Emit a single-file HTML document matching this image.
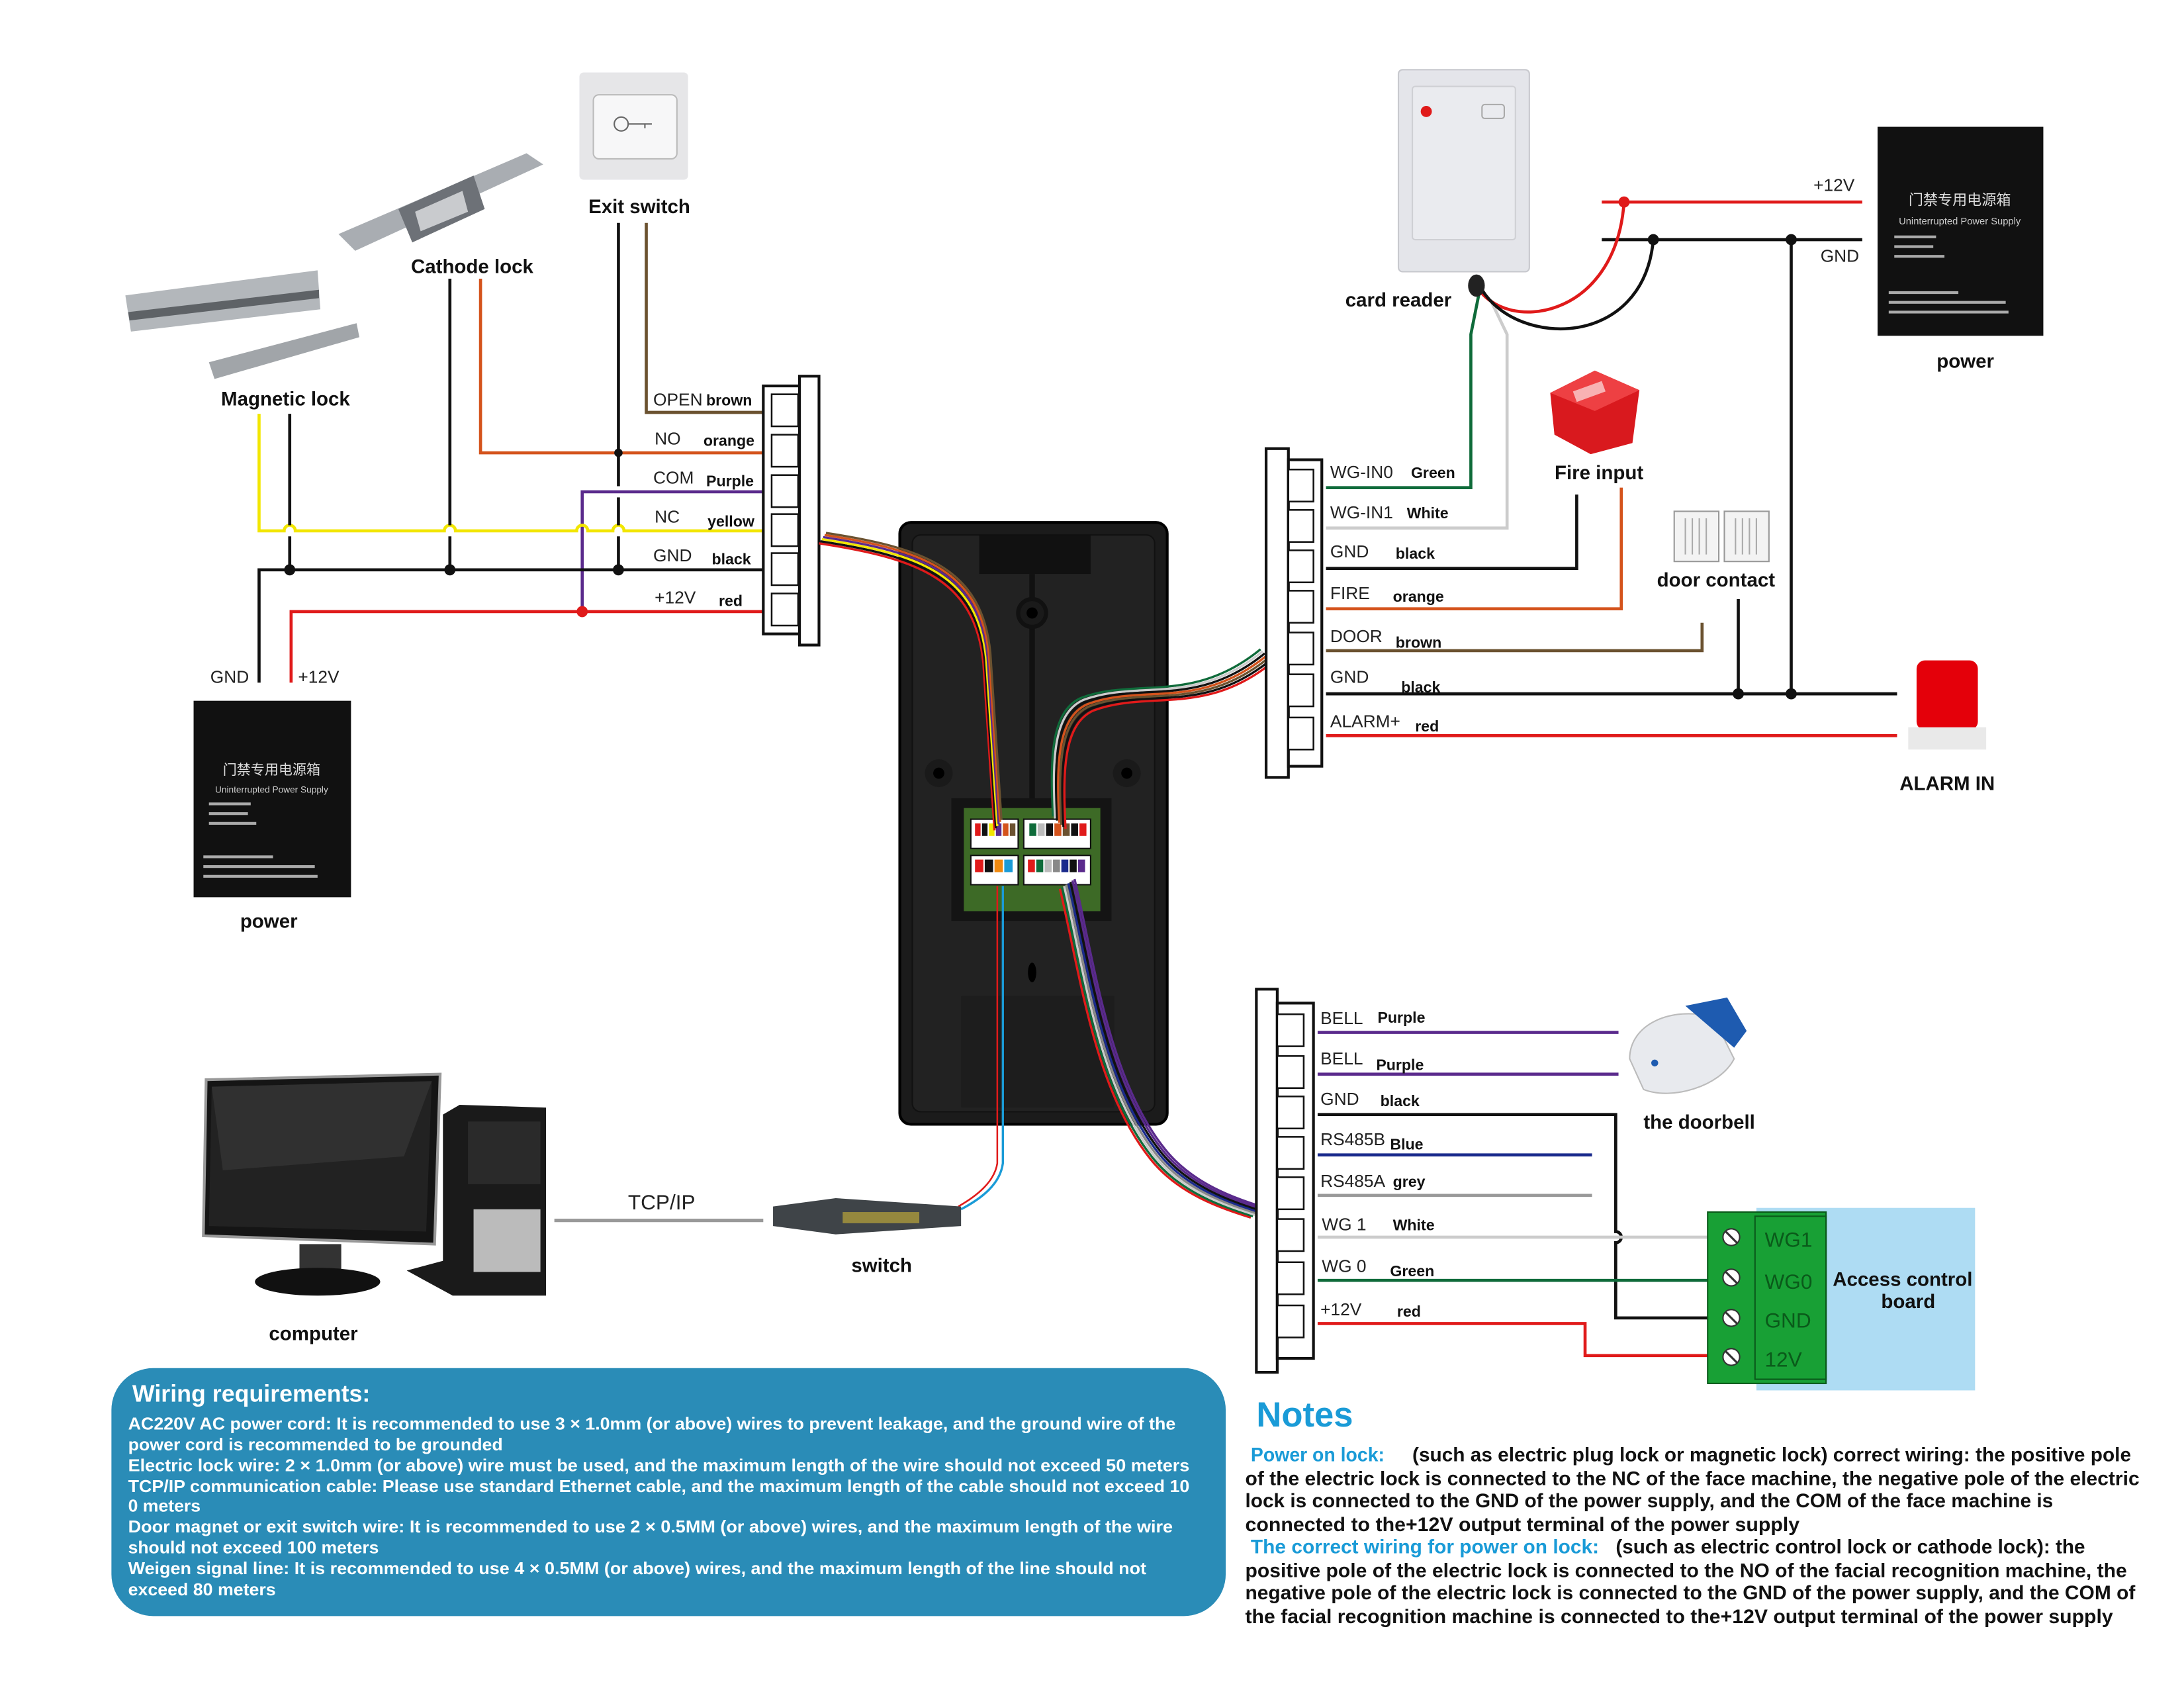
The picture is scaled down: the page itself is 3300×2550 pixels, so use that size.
<!DOCTYPE html>
<html><head><meta charset="utf-8"><style>
html,body{margin:0;padding:0;background:#fff}
svg{display:block}
text{font-family:"Liberation Sans","Noto Sans CJK SC",sans-serif}
.l{font-size:12.5px;fill:#222}
.b{font-size:11px;font-weight:bold;fill:#111}
.t{font-size:14px;font-weight:bold;fill:#111}
.w{font-size:12.4px;font-weight:bold;fill:#fff}
.n{font-size:14.2px;font-weight:bold;fill:#111}
.nb{font-size:14.2px;font-weight:bold;fill:#1a9bd7}
</style></head><body>
<svg width="3300" height="2550" viewBox="0 0 1568 1211.6" xmlns="http://www.w3.org/2000/svg">
<rect width="1568" height="1212" fill="#fff"/>

<!-- ===== LEFT WIRING ===== -->
<g fill="none" stroke-width="2.2">
<path d="M464 160 V296 H548" stroke="#6b5230"/>
<path d="M345 200 V325 H548" stroke="#d4531c"/>
<path d="M440 353 H418 V439" stroke="#5a2a8c"/>
<path d="M440 353 H548" stroke="#5a2a8c"/>
<path d="M186 297 V381 H204 a4 4 0 0 1 8 0 H319 a4 4 0 0 1 8 0 H414 a4 4 0 0 1 8 0 H440 a4 4 0 0 1 8 0 H548" stroke="#f2e600"/>
<path d="M186 490 V409 H548" stroke="#111"/>
<path d="M208 297 V377 M208 385 V409" stroke="#111"/>
<path d="M323 200 V377 M323 385 V409" stroke="#111"/>
<path d="M444 160 V349 M444 357 V377 M444 385 V409" stroke="#111"/>
<path d="M209 490 V439 H548" stroke="#e01a1a"/>
</g>
<g fill="#111"><circle cx="208" cy="409" r="4"/><circle cx="323" cy="409" r="4"/><circle cx="444" cy="409" r="4"/><circle cx="444" cy="325" r="3"/></g>
<circle cx="418" cy="439" r="4" fill="#e01a1a"/>

<!-- left terminal -->
<rect x="548" y="277" width="27" height="178" fill="#fff" stroke="#111" stroke-width="2"/>
<g fill="#fff" stroke="#111" stroke-width="1.2">
<rect x="554" y="283" width="19" height="23"/><rect x="554" y="312" width="19" height="23"/><rect x="554" y="341" width="19" height="23"/><rect x="554" y="369" width="19" height="23"/><rect x="554" y="397" width="19" height="23"/><rect x="554" y="426" width="19" height="23"/>
</g>
<rect x="574" y="270" width="14" height="193" fill="#fff" stroke="#111" stroke-width="2"/>
<text class="l" x="469" y="291">OPEN</text><text class="b" x="507" y="291">brown</text>
<text class="l" x="470" y="319">NO</text><text class="b" x="505" y="320">orange</text>
<text class="l" x="469" y="347">COM</text><text class="b" x="507" y="349">Purple</text>
<text class="l" x="470" y="375">NC</text><text class="b" x="508" y="378">yellow</text>
<text class="l" x="469" y="403">GND</text><text class="b" x="511" y="405">black</text>
<text class="l" x="470" y="433">+12V</text><text class="b" x="516" y="435">red</text>

<!-- left devices -->
<rect x="416" y="52" width="78" height="77" rx="3" fill="#e6e6e8"/>
<rect x="426" y="68" width="60" height="46" rx="4" fill="#f7f7f8" stroke="#bbb"/>
<circle cx="446" cy="89" r="5" fill="none" stroke="#666"/><path d="M451 89 H468 M463 89 v3" stroke="#666" fill="none"/>
<text x="459" y="153" class="t" text-anchor="middle">Exit switch</text>
<path d="M243 168 L378 110 L390 118 L255 180 Z" fill="#a9adb2"/>
<path d="M286 150 L340 126 L348 150 L296 174 Z" fill="#6d7177"/>
<path d="M298 152 L332 137 L336 152 L302 166 Z" fill="#c9cbce"/>
<text x="339" y="196" class="t" text-anchor="middle">Cathode lock</text>
<path d="M90 212 L228 194 L230 222 L94 238 Z" fill="#b3b7bb"/>
<path d="M92 224 L229 208 L229 214 L93 230 Z" fill="#5e6266"/>
<path d="M150 260 L256 232 L258 242 L154 272 Z" fill="#a1a5a9"/>
<text x="205" y="291" class="t" text-anchor="middle">Magnetic lock</text>
<text class="l" x="151" y="490">GND</text><text class="l" x="214" y="490">+12V</text>
<rect x="139" y="503" width="113" height="141" fill="#111"/>
<text x="195" y="556" fill="#ddd" font-size="10" text-anchor="middle">门禁专用电源箱</text>
<text x="195" y="569" fill="#ccc" font-size="6.5" text-anchor="middle">Uninterrupted Power Supply</text>
<g fill="#aaa"><rect x="150" y="576" width="30" height="2"/><rect x="150" y="583" width="28" height="2"/><rect x="150" y="590" width="34" height="2"/><rect x="146" y="614" width="50" height="2"/><rect x="146" y="621" width="80" height="2"/><rect x="146" y="628" width="82" height="2"/></g>
<text x="193" y="666" class="t" text-anchor="middle">power</text>

<!-- ===== CENTER DEVICE ===== -->
<rect x="646" y="375" width="192" height="432" rx="8" fill="#1b1b1b" stroke="#000" stroke-width="2"/>
<rect x="655" y="384" width="174" height="414" rx="6" fill="#222" stroke="#111"/>
<rect x="703" y="384" width="80" height="28" fill="#111"/>
<path d="M741 412 V575" stroke="#111" stroke-width="4"/>
<circle cx="741" cy="440" r="10" fill="#1a1a1a" stroke="#111" stroke-width="3"/><circle cx="741" cy="440" r="4" fill="#000"/>
<circle cx="674" cy="555" r="10" fill="#1a1a1a"/><circle cx="674" cy="555" r="4" fill="#000"/>
<circle cx="809" cy="555" r="10" fill="#1a1a1a"/><circle cx="809" cy="555" r="4" fill="#000"/>
<rect x="683" y="573" width="115" height="88" fill="#141414"/>
<rect x="692" y="580" width="98" height="74" fill="#3d6a26"/>
<rect x="697" y="588" width="34" height="21" fill="#fff" stroke="#111"/><rect x="735" y="588" width="48" height="21" fill="#fff" stroke="#111"/>
<rect x="697" y="614" width="34" height="21" fill="#fff" stroke="#111"/><rect x="735" y="614" width="48" height="21" fill="#fff" stroke="#111"/>
<g>
<rect x="700" y="591" width="4" height="9" fill="#e01a1a"/><rect x="705" y="591" width="4" height="9" fill="#111"/><rect x="710" y="591" width="4" height="9" fill="#f2e600"/><rect x="715" y="591" width="4" height="9" fill="#5a2a8c"/><rect x="720" y="591" width="4" height="9" fill="#d4531c"/><rect x="725" y="591" width="4" height="9" fill="#6b5230"/>
<rect x="739" y="591" width="5" height="9" fill="#0f6b3a"/><rect x="745" y="591" width="5" height="9" fill="#bbb"/><rect x="751" y="591" width="5" height="9" fill="#111"/><rect x="757" y="591" width="5" height="9" fill="#d4531c"/><rect x="763" y="591" width="5" height="9" fill="#6b5230"/><rect x="769" y="591" width="5" height="9" fill="#111"/><rect x="775" y="591" width="5" height="9" fill="#e01a1a"/>
<rect x="700" y="617" width="6" height="9" fill="#e01a1a"/><rect x="707" y="617" width="6" height="9" fill="#111"/><rect x="714" y="617" width="6" height="9" fill="#f08a10"/><rect x="721" y="617" width="6" height="9" fill="#1a9bd7"/>
<rect x="738" y="617" width="5" height="9" fill="#e01a1a"/><rect x="744" y="617" width="5" height="9" fill="#0f6b3a"/><rect x="750" y="617" width="5" height="9" fill="#bbb"/><rect x="756" y="617" width="5" height="9" fill="#888"/><rect x="762" y="617" width="5" height="9" fill="#1a2a8c"/><rect x="768" y="617" width="5" height="9" fill="#111"/><rect x="774" y="617" width="5" height="9" fill="#5a2a8c"/>
</g>
<rect x="690" y="715" width="110" height="80" fill="#1d1d1d"/>
<ellipse cx="741" cy="698" rx="3" ry="7" fill="#000"/>

<!-- cable bundles -->
<g fill="none" stroke-width="1.6">
<path d="M588 384 C660 395 700 410 706 470 L714 590" stroke="#e01a1a" transform="translate(0,6)"/>
<path d="M588 384 C660 395 700 410 706 470 L714 590" stroke="#111" transform="translate(1,4.5)"/>
<path d="M588 384 C660 395 700 410 706 470 L714 590" stroke="#f2e600" transform="translate(2,3)"/>
<path d="M588 384 C660 395 700 410 706 470 L714 590" stroke="#5a2a8c" transform="translate(3,1.5)"/>
<path d="M588 384 C660 395 700 410 706 470 L714 590" stroke="#d4531c" transform="translate(4,0)"/>
<path d="M588 384 C660 395 700 410 706 470 L714 590" stroke="#6b5230" transform="translate(5,-1.5)"/>
</g>
<g fill="none" stroke-width="1.6">
<path d="M909 470 C860 510 820 490 780 505 C758 515 758 550 760 590" stroke="#0f6b3a" transform="translate(-4,-4)"/>
<path d="M909 470 C860 510 820 490 780 505 C758 515 758 550 760 590" stroke="#ccc" transform="translate(-2.5,-2.5)"/>
<path d="M909 470 C860 510 820 490 780 505 C758 515 758 550 760 590" stroke="#111" transform="translate(-1,-1)"/>
<path d="M909 470 C860 510 820 490 780 505 C758 515 758 550 760 590" stroke="#d4531c" transform="translate(0.5,0.5)"/>
<path d="M909 470 C860 510 820 490 780 505 C758 515 758 550 760 590" stroke="#6b5230" transform="translate(2,2)"/>
<path d="M909 470 C860 510 820 490 780 505 C758 515 758 550 760 590" stroke="#111" transform="translate(3.5,3.5)"/>
<path d="M909 470 C860 510 820 490 780 505 C758 515 758 550 760 590" stroke="#e01a1a" transform="translate(5,5)"/>
</g>
<g fill="none" stroke-width="1.6">
<path d="M765 636 C780 700 790 780 830 830 C850 855 880 865 902 872" stroke="#e01a1a" transform="translate(-4,2)"/>
<path d="M765 636 C780 700 790 780 830 830 C850 855 880 865 902 872" stroke="#0f6b3a" transform="translate(-2.5,1)"/>
<path d="M765 636 C780 700 790 780 830 830 C850 855 880 865 902 872" stroke="#ccc" transform="translate(-1,0)"/>
<path d="M765 636 C780 700 790 780 830 830 C850 855 880 865 902 872" stroke="#888" transform="translate(0.5,-1)"/>
<path d="M765 636 C780 700 790 780 830 830 C850 855 880 865 902 872" stroke="#1a2a8c" transform="translate(2,-2)"/>
<path d="M765 636 C780 700 790 780 830 830 C850 855 880 865 902 872" stroke="#111" transform="translate(3.5,-3)"/>
<path d="M765 636 C780 700 790 780 830 830 C850 855 880 865 902 872" stroke="#5a2a8c" transform="translate(5,-4)"/>
<path d="M765 636 C780 700 790 780 830 830 C850 855 880 865 902 872" stroke="#5a2a8c" transform="translate(6.5,-5)"/>
</g>
<path d="M720 636 V835 C718 850 705 860 690 868" fill="none" stroke="#1a9bd7" stroke-width="1.6"/>
<path d="M716 636 V835 C714 848 702 858 688 866" fill="none" stroke="#e01a1a" stroke-width="1.2"/>

<!-- ===== RIGHT TOP WIRING ===== -->
<g fill="none" stroke-width="2.2">
<path d="M952 350 H1056 V240 L1062 210" stroke="#0f6b3a"/>
<path d="M952 379 H1082 V240 L1070 215" stroke="#ccc"/>
<path d="M952 408 H1132 V355" stroke="#111"/>
<path d="M952 437 H1164 V350" stroke="#d4531c"/>
<path d="M952 467 H1222 V447" stroke="#6b5230"/>
<path d="M952 498 H1362 M1248 430 V498 M1286 172 V498" stroke="#111"/>
<path d="M952 528 H1362" stroke="#e01a1a"/>
<path d="M1150 145 H1337" stroke="#e01a1a"/>
<path d="M1150 172 H1337" stroke="#111"/>
<path d="M1060 205 C1080 240 1160 230 1166 145" stroke="#e01a1a"/>
<path d="M1064 208 C1090 250 1180 250 1187 172" stroke="#111"/>
</g>
<circle cx="1166" cy="145" r="4" fill="#e01a1a"/>
<g fill="#111"><circle cx="1187" cy="172" r="4"/><circle cx="1286" cy="172" r="4"/><circle cx="1248" cy="498" r="4"/><circle cx="1286" cy="498" r="4"/></g>

<rect x="909" y="322" width="16" height="236" fill="#fff" stroke="#111" stroke-width="2"/>
<rect x="925" y="330" width="24" height="220" fill="#fff" stroke="#111" stroke-width="2"/>
<g fill="#fff" stroke="#111" stroke-width="1.2">
<rect x="925" y="337" width="18" height="23"/><rect x="925" y="366" width="18" height="23"/><rect x="925" y="395" width="18" height="23"/><rect x="925" y="424" width="18" height="23"/><rect x="925" y="454" width="18" height="23"/><rect x="925" y="484" width="18" height="23"/><rect x="925" y="515" width="18" height="23"/>
</g>
<text class="l" x="955" y="343">WG-IN0</text><text class="b" x="1013" y="343">Green</text>
<text class="l" x="955" y="372">WG-IN1</text><text class="b" x="1010" y="372">White</text>
<text class="l" x="955" y="400">GND</text><text class="b" x="1002" y="401">black</text>
<text class="l" x="955" y="430">FIRE</text><text class="b" x="1000" y="432">orange</text>
<text class="l" x="955" y="461">DOOR</text><text class="b" x="1002" y="465">brown</text>
<text class="l" x="955" y="490">GND</text><text class="b" x="1006" y="497">black</text>
<text class="l" x="955" y="522">ALARM+</text><text class="b" x="1016" y="525">red</text>

<!-- card reader -->
<rect x="1004" y="50" width="94" height="145" rx="3" fill="#e4e5ea" stroke="#c8c9ce"/>
<rect x="1014" y="62" width="74" height="110" rx="2" fill="#eaebef" stroke="#cfd0d4"/>
<circle cx="1024" cy="80" r="4" fill="#e01a1a"/>
<rect x="1064" y="75" width="16" height="10" rx="2" fill="none" stroke="#aaa"/>
<ellipse cx="1060" cy="205" rx="6" ry="8" fill="#222"/>
<text x="1004" y="220" class="t" text-anchor="middle">card reader</text>
<text class="l" x="1302" y="137">+12V</text><text class="l" x="1307" y="188">GND</text>
<rect x="1348" y="91" width="119" height="150" fill="#111"/>
<text x="1407" y="147" fill="#ddd" font-size="10.5" text-anchor="middle">门禁专用电源箱</text>
<text x="1407" y="161" fill="#ccc" font-size="7" text-anchor="middle">Uninterrupted Power Supply</text>
<g fill="#aaa"><rect x="1360" y="169" width="30" height="2"/><rect x="1360" y="176" width="28" height="2"/><rect x="1360" y="183" width="36" height="2"/><rect x="1356" y="209" width="50" height="2"/><rect x="1356" y="216" width="84" height="2"/><rect x="1356" y="223" width="86" height="2"/></g>
<text x="1411" y="264" class="t" text-anchor="middle">power</text>
<!-- fire input -->
<path d="M1113 282 L1145 266 L1177 280 L1172 318 L1142 326 L1116 312 Z" fill="#d9191e"/>
<path d="M1113 282 L1145 266 L1177 280 L1145 295 Z" fill="#ee4043"/>
<rect x="1130" y="277" width="22" height="8" fill="#fff" opacity=".6" transform="rotate(-20 1141 281)"/>
<text x="1148" y="344" class="t" text-anchor="middle">Fire input</text>
<!-- door contact -->
<rect x="1202" y="367" width="32" height="36" fill="#f3f3f3" stroke="#999"/>
<rect x="1238" y="367" width="32" height="36" fill="#f3f3f3" stroke="#999"/>
<g stroke="#aaa"><path d="M1210 372 v26 M1215 372 v26 M1220 372 v26 M1225 372 v26 M1246 372 v26 M1251 372 v26 M1256 372 v26 M1261 372 v26"/></g>
<text x="1232" y="421" class="t" text-anchor="middle">door contact</text>
<!-- alarm -->
<rect x="1376" y="474" width="44" height="50" rx="6" fill="#e4000a"/>
<rect x="1370" y="522" width="56" height="16" fill="#e9e9e9"/>
<text x="1398" y="567" class="t" text-anchor="middle">ALARM IN</text>

<!-- ===== RIGHT BOTTOM ===== -->
<g fill="none" stroke-width="2.2">
<path d="M946 741 H1162" stroke="#5a2a8c"/>
<path d="M946 771 H1162" stroke="#5a2a8c"/>
<path d="M946 800 H1160 V884 a4 4 0 0 1 0 8 V946 H1228" stroke="#111"/>
<path d="M946 829 H1143" stroke="#1a2a8c"/>
<path d="M946 858 H1143" stroke="#999"/>
<path d="M946 888 H1228" stroke="#ccc"/>
<path d="M946 919 H1228" stroke="#0f6b3a"/>
<path d="M946 950 H1138 V973 H1228" stroke="#e01a1a"/>
</g>
<rect x="902" y="710" width="15" height="275" fill="#fff" stroke="#111" stroke-width="2"/>
<rect x="917" y="720" width="26" height="255" fill="#fff" stroke="#111" stroke-width="2"/>
<g fill="#fff" stroke="#111" stroke-width="1.2">
<rect x="917" y="728" width="19" height="23"/><rect x="917" y="758" width="19" height="23"/><rect x="917" y="787" width="19" height="23"/><rect x="917" y="816" width="19" height="23"/><rect x="917" y="845" width="19" height="23"/><rect x="917" y="875" width="19" height="23"/><rect x="917" y="906" width="19" height="23"/><rect x="917" y="937" width="19" height="23"/>
</g>
<text class="l" x="948" y="735">BELL</text><text class="b" x="989" y="734">Purple</text>
<text class="l" x="948" y="764">BELL</text><text class="b" x="988" y="768">Purple</text>
<text class="l" x="948" y="793">GND</text><text class="b" x="991" y="794">black</text>
<text class="l" x="948" y="822">RS485B</text><text class="b" x="998" y="825">Blue</text>
<text class="l" x="948" y="852">RS485A</text><text class="b" x="1000" y="852">grey</text>
<text class="l" x="949" y="883">WG 1</text><text class="b" x="1000" y="883">White</text>
<text class="l" x="949" y="913">WG 0</text><text class="b" x="998" y="916">Green</text>
<text class="l" x="948" y="944">+12V</text><text class="b" x="1003" y="945">red</text>
<!-- doorbell -->
<path d="M1170 760 C1170 735 1200 722 1230 730 L1245 760 C1235 780 1200 790 1180 782 Z" fill="#e8eaee" stroke="#bbb"/>
<path d="M1210 722 L1240 716 L1254 740 L1245 752 Z" fill="#1e5bb0"/>
<circle cx="1188" cy="763" r="2.5" fill="#1e5bb0"/>
<text x="1220" y="810" class="t" text-anchor="middle">the doorbell</text>
<!-- access board -->
<rect x="1261" y="867" width="157" height="131" fill="#aedcf3"/>
<rect x="1226" y="870" width="85" height="123" fill="#18a035" stroke="#0a5a1a"/>
<rect x="1260" y="873" width="51" height="117" fill="none" stroke="#0a5a1a"/>
<g fill="#fff" stroke="#333"><circle cx="1243" cy="888" r="6"/><circle cx="1243" cy="917" r="6"/><circle cx="1243" cy="946" r="6"/><circle cx="1243" cy="974" r="6"/></g>
<g stroke="#333" stroke-width="1.5"><path d="M1239 884 l8 8 M1239 913 l8 8 M1239 942 l8 8 M1239 970 l8 8"/></g>
<g fill="#0a5a1a" font-size="15"><text x="1267" y="895">WG1</text><text x="1267" y="925">WG0</text><text x="1267" y="953">GND</text><text x="1267" y="981">12V</text></g>
<text x="1366" y="923" class="t" text-anchor="middle">Access control</text>
<text x="1370" y="939" class="t" text-anchor="middle">board</text>

<!-- ===== COMPUTER / SWITCH ===== -->
<path d="M148 775 L316 771 L312 893 L146 887 Z" fill="#151515" stroke="#999" stroke-width="2"/>
<path d="M152 780 L310 776 L306 884 L150 880 Z" fill="#222"/>
<path d="M152 780 L310 776 L290 830 L160 840 Z" fill="#3a3a3a" opacity=".6"/>
<rect x="215" y="893" width="30" height="18" fill="#333"/>
<ellipse cx="228" cy="920" rx="45" ry="10" fill="#111"/>
<path d="M318 800 L330 793 L392 795 L392 930 L325 930 L292 912 L318 905 Z" fill="#1a1a1a"/>
<rect x="336" y="805" width="52" height="45" fill="#2a2a2a"/>
<rect x="340" y="868" width="48" height="45" fill="#bbb"/>
<path d="M398 876 H548" stroke="#999" stroke-width="2.5"/>
<text x="475" y="868" font-size="15" fill="#222" text-anchor="middle">TCP/IP</text>
<path d="M555 866 L600 860 L690 866 L690 880 L600 886 L555 880 Z" fill="#3f4448"/>
<rect x="605" y="870" width="55" height="8" fill="#bba53a" opacity=".7"/>
<text x="633" y="913" class="t" text-anchor="middle">switch</text>
<text x="225" y="962" class="t" text-anchor="middle">computer</text>

<!-- ===== WIRING REQUIREMENTS ===== -->
<rect x="80" y="982" width="800" height="178" rx="30" fill="#2a8cb7"/>
<text x="95" y="1006" font-size="17" font-weight="bold" fill="#fff">Wiring requirements:</text>
<text class="w" x="92" y="1026" textLength="752" lengthAdjust="spacingAndGlyphs">AC220V AC power cord: It is recommended to use 3 × 1.0mm (or above) wires to prevent leakage, and the ground wire of the</text>
<text class="w" x="92" y="1041" textLength="269" lengthAdjust="spacingAndGlyphs">power cord is recommended to be grounded</text>
<text class="w" x="92" y="1056" textLength="762" lengthAdjust="spacingAndGlyphs">Electric lock wire: 2 × 1.0mm (or above) wire must be used, and the maximum length of the wire should not exceed 50 meters</text>
<text class="w" x="92" y="1071" textLength="762" lengthAdjust="spacingAndGlyphs">TCP/IP communication cable: Please use standard Ethernet cable, and the maximum length of the cable should not exceed 10</text>
<text class="w" x="92" y="1085" textLength="52" lengthAdjust="spacingAndGlyphs">0 meters</text>
<text class="w" x="92" y="1100" textLength="750" lengthAdjust="spacingAndGlyphs">Door magnet or exit switch wire: It is recommended to use 2 × 0.5MM (or above) wires, and the maximum length of the wire</text>
<text class="w" x="92" y="1115" textLength="180" lengthAdjust="spacingAndGlyphs">should not exceed 100 meters</text>
<text class="w" x="92" y="1130" textLength="731" lengthAdjust="spacingAndGlyphs">Weigen signal line: It is recommended to use 4 × 0.5MM (or above) wires, and the maximum length of the line should not</text>
<text class="w" x="92" y="1145" textLength="106" lengthAdjust="spacingAndGlyphs">exceed 80 meters</text>

<!-- ===== NOTES ===== -->
<text x="902" y="1024" font-size="25" font-weight="bold" fill="#1a9bd7">Notes</text>
<text class="nb" x="898" y="1049" textLength="96" lengthAdjust="spacingAndGlyphs">Power on lock:</text>
<text class="n" x="1014" y="1049" textLength="516" lengthAdjust="spacingAndGlyphs">(such as electric plug lock or magnetic lock) correct wiring: the positive pole</text>
<text class="n" x="894" y="1066" textLength="642" lengthAdjust="spacingAndGlyphs">of the electric lock is connected to the NC of the face machine, the negative pole of the electric</text>
<text class="n" x="894" y="1082" textLength="580" lengthAdjust="spacingAndGlyphs">lock is connected to the GND of the power supply, and the COM of the face machine is</text>
<text class="n" x="894" y="1099" textLength="398" lengthAdjust="spacingAndGlyphs">connected to the+12V output terminal of the power supply</text>
<text class="nb" x="898" y="1115" textLength="250" lengthAdjust="spacingAndGlyphs">The correct wiring for power on lock:</text>
<text class="n" x="1160" y="1115" textLength="337" lengthAdjust="spacingAndGlyphs">(such as electric control lock or cathode lock): the</text>
<text class="n" x="894" y="1132" textLength="633" lengthAdjust="spacingAndGlyphs">positive pole of the electric lock is connected to the NO of the facial recognition machine, the</text>
<text class="n" x="894" y="1148" textLength="639" lengthAdjust="spacingAndGlyphs">negative pole of the electric lock is connected to the GND of the power supply, and the COM of</text>
<text class="n" x="894" y="1165" textLength="623" lengthAdjust="spacingAndGlyphs">the facial recognition machine is connected to the+12V output terminal of the power supply</text>
</svg>
</body></html>
